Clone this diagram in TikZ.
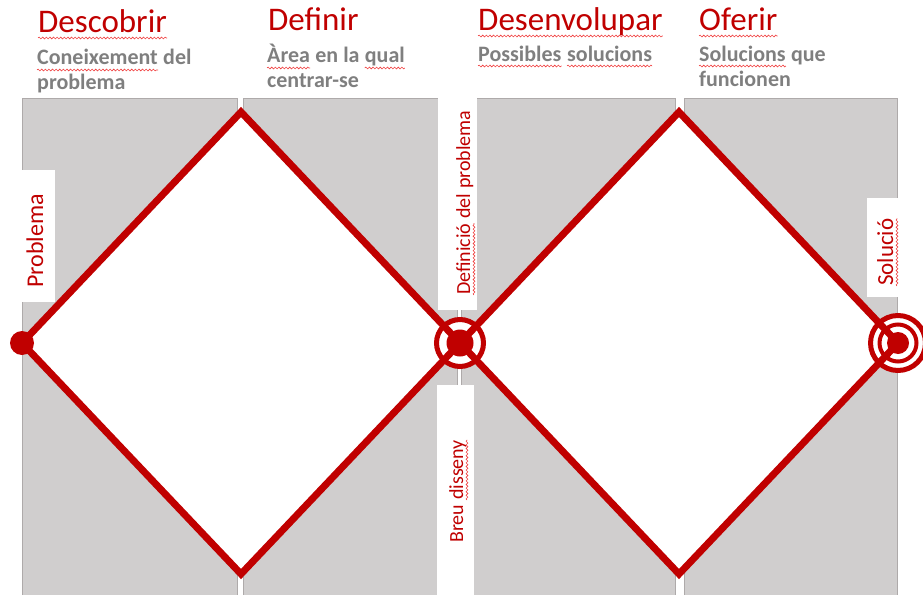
\documentclass[tikz,border=0pt]{standalone}
\usepackage{fontspec}
\setmainfont{Carlito}
\usetikzlibrary{decorations.pathmorphing}
\definecolor{rd}{HTML}{C00000}
\definecolor{gtx}{HTML}{7F7F7F}
\definecolor{pan}{HTML}{D0CECE}
\definecolor{panb}{HTML}{AEAAAA}
\definecolor{sq}{HTML}{F04040}
\tikzset{
  panel/.style={fill=pan, draw=panb, line width=0.8pt},
  strip/.style={fill=white, draw=none},
  diam/.style={draw=rd, fill=white, line width=7pt, line join=miter},
  title/.style={text=rd, font=\fontsize{33}{39}\selectfont, anchor=base west, inner sep=0pt},
  sub/.style={text=gtx, font=\bfseries\fontsize{22}{26}\selectfont, anchor=base west, inner sep=0pt},
  vlab/.style={text=rd, rotate=90, anchor=base west, inner sep=0pt},
  gap/.style={circle, fill=white, draw=none, inner sep=0pt},
  ring/.style={draw=rd, fill=none},
  dot/.style={circle, fill=rd, draw=none, inner sep=0pt},
  squig/.style={draw=sq, line width=0.6pt, decorate, decoration={snake, amplitude=0.9pt, segment length=3.6pt}}
}
\newcommand\hsq[1]{\draw[squig] ([yshift=-5pt]#1.base west) -- ([yshift=-5pt]#1.base east);}
\newcommand\vsq[1]{\draw[squig] ([xshift=4pt]#1.base west) -- ([xshift=4pt]#1.base east);}
\begin{document}
\begin{tikzpicture}[x=1pt,y=-1pt]
\useasboundingbox (0,0) rectangle (923,594);
\clip (0,0) rectangle (923,594);
% panels
\draw[panel] (22,98) rectangle (237,600);
\draw[panel] (243,98) rectangle (457,600);
\draw[panel] (461,98) rectangle (675,600);
\draw[panel] (684,98) rectangle (897,600);
% white label strips
\fill[strip] (22.4,170) rectangle (55,302);
\fill[strip] (438,95) rectangle (477,310);
\fill[strip] (437,385) rectangle (474,600);
\fill[strip] (867,198) rectangle (898,297);
% vertices
\coordinate (L1) at (22,343);
\coordinate (T1) at (241,112);
\coordinate (R1) at (460,343);
\coordinate (B1) at (241,574);
\coordinate (T2) at (679,112);
\coordinate (R2) at (898,343);
\coordinate (B2) at (679,574);
% white gaps of targets
\node[gap, minimum size=42pt] (g1) at (R1) {};
\node[gap, minimum size=52pt] (g2) at (R2) {};
% diamonds
\draw[diam] (L1) -- (T1) -- (R1) -- (B1) -- cycle;
\draw[diam] (R1) -- (T2) -- (R2) -- (B2) -- cycle;
% start dot
\node[dot, minimum size=24pt] (start) at (L1) {};
% middle target
\draw[ring, line width=5pt] (R1) circle[radius=23.5];
\node[dot, minimum size=27pt] (mid) at (R1) {};
% final target
\draw[ring, line width=5pt] (R2) circle[radius=27.5];
\draw[ring, line width=4pt] (R2) circle[radius=18.5];
\node[dot, minimum size=22pt] (goal) at (R2) {};
% titles
\node[title] (h1) at (38,33) {Descobrir};
\node[title] (h2) at (268,31) {Definir};
\node[title] (h3) at (478,31) {Desenvolupar};
\node[title] (h4) at (699,31) {Oferir};
\hsq{h1} \hsq{h3} \hsq{h4}
% subtitles
\node[sub] (s1a) at (37,65) {Coneixement};
\node[sub] (s1c) at (s1a.base east) {\ del};
\node[sub] (s1b) at (37,89) {problema};
\node[sub] (s2a) at (267,63) {Àrea};
\node[sub] (s2c) at (s2a.base east) {\ en la\ \null};
\node[sub] (s2d) at (s2c.base east) {qual};
\node[sub] (s2b) at (267,87) {centrar-se};
\node[sub] (s3a) at (478,61) {Possibles};
\node[sub] (s3c) at (s3a.base east) {\ \null};
\node[sub] (s3d) at (s3c.base east) {solucions};
\node[sub] (s4a) at (699,61) {Solucions};
\node[sub] (s4c) at (s4a.base east) {\ que};
\node[sub] (s4b) at (699,86) {funcionen};
\hsq{s1a} \hsq{s2a} \hsq{s2d} \hsq{s3a} \hsq{s3d} \hsq{s4a}
% vertical labels
\node[vlab, font=\fontsize{24}{29}\selectfont] (v1) at (43,288) {Problema};
\node[vlab, font=\fontsize{20}{24}\selectfont] (v2) at (470,295) {Definició};
\node[vlab, font=\fontsize{20}{24}\selectfont] (v2b) at (v2.base east) {\ del problema};
\node[vlab, font=\fontsize{20}{24}\selectfont] (v3) at (463,543) {Breu\ \null};
\node[vlab, font=\fontsize{20}{24}\selectfont] (v3b) at (v3.base east) {disseny};
\node[vlab, font=\fontsize{23}{28}\selectfont] (v4) at (893,286) {Solució};
\vsq{v2} \vsq{v3b} \vsq{v4}
\end{tikzpicture}
\end{document}
